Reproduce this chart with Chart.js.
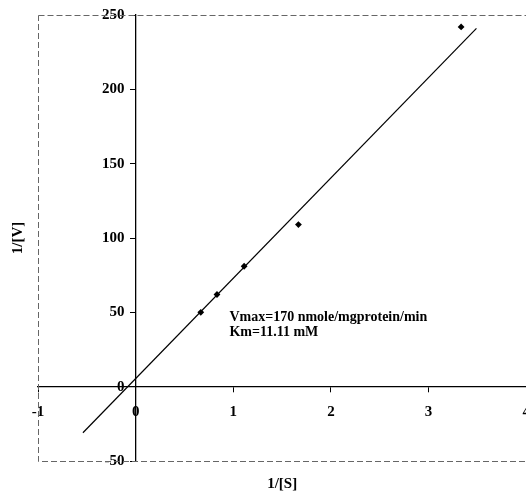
<!DOCTYPE html>
<html>
<head>
<meta charset="utf-8">
<script src="https://cdn.jsdelivr.net/npm/chart.js@4.4.1/dist/chart.umd.min.js"></script>
<style>
  html, body { margin: 0; padding: 0; background: #fff; overflow: hidden; }
</style>
</head>
<body>
<canvas id="lbPlot" width="541" height="494"></canvas>
<script>
// Lineweaver-Burk data
let invS = [0.667, 0.833, 1.111, 1.667, 3.333];
let invV = [50, 62, 81, 109, 242];
let fitX = [-0.54, 3.49];
let fitY = [-31, 241];
let xTicks = [-1, 0, 1, 2, 3, 4];
let yTicks = [-50, 0, 50, 100, 150, 200, 250];
let notes = ['Vmax=170 nmole/mgprotein/min', 'Km=11.11 mM'];
let noteAt = {x: 0.96, y: 44.4};

const serif = 'Liberation Serif, "Times New Roman", serif';

let frameAndNotes = {
  id: 'frameAndNotes',
  afterDraw(chart) {
    const c = chart.ctx;
    const a = chart.chartArea;
    c.save();
    c.strokeStyle = '#666';
    c.lineWidth = 1;
    c.setLineDash([6, 3]);
    c.strokeRect(a.left + 0.5, a.top + 0.5, a.right - a.left, a.bottom - a.top);
    c.setLineDash([]);
    c.fillStyle = '#000';
    c.font = 'bold 14px ' + serif;
    c.textBaseline = 'alphabetic';
    let px = chart.scales.x.getPixelForValue(noteAt.x);
    let py = chart.scales.y.getPixelForValue(noteAt.y);
    notes.forEach((t, i) => {
      c.fillText(t, px, py + i * 15);
    });
    c.restore();
  }
};

let tickFont = {family: serif, size: 15, weight: 'bold'};

let ctx = document.getElementById('lbPlot');
let myChart = new Chart(ctx, {
  type: 'scatter',
  data: {
    datasets: [
      {
        label: 'data',
        data: invS.map((v, i) => ({x: v, y: invV[i]})),
        pointStyle: 'rectRot',
        pointRadius: 3.4,
        backgroundColor: '#000',
        borderColor: '#000',
        borderWidth: 0,
        showLine: false
      },
      {
        label: 'fit',
        data: fitX.map((v, i) => ({x: v, y: fitY[i]})),
        showLine: true,
        pointRadius: 0,
        borderColor: '#000',
        borderWidth: 1.2,
        fill: false
      }
    ]
  },
  options: {
    responsive: false,
    animation: false,
    layout: { padding: {top: 15, left: 0, right: 0, bottom: 0} },
    plugins: {
      legend: { display: false },
      tooltip: { enabled: false }
    },
    scales: {
      x: {
        type: 'linear',
        position: {y: 0},
        min: -1,
        max: 4,
        afterBuildTicks: (s) => { s.ticks = xTicks.map(v => ({value: v})); },
        grid: { drawOnChartArea: false, tickLength: 5, color: '#000' },
        border: { color: '#000', width: 1.3 },
        ticks: { font: tickFont, color: '#000', padding: 11, maxRotation: 0 }
      },
      y: {
        type: 'linear',
        position: {x: 0},
        min: -50,
        max: 250,
        afterBuildTicks: (s) => { s.ticks = yTicks.map(v => ({value: v})); },
        grid: { drawOnChartArea: false, tickLength: 5, color: '#000' },
        border: { color: '#000', width: 1.3 },
        // labels of a positioned axis sit right on it, so pad them with spaces
        ticks: { font: tickFont, color: '#000', callback: (v) => v + '   ' }
      },
      xb: {
        type: 'linear',
        position: 'bottom',
        ticks: { display: false },
        grid: { display: false, drawTicks: false },
        border: { display: false },
        title: { display: true, text: '1/[S]', font: tickFont, color: '#000', padding: {top: 14, bottom: 1} }
      },
      yl: {
        type: 'linear',
        position: 'left',
        ticks: { display: false },
        grid: { display: false, drawTicks: false },
        border: { display: false },
        title: { display: true, text: '1/[V]', font: tickFont, color: '#000', padding: {top: 9, bottom: 11} }
      }
    }
  },
  plugins: [frameAndNotes]
});
</script>
</body>
</html>
